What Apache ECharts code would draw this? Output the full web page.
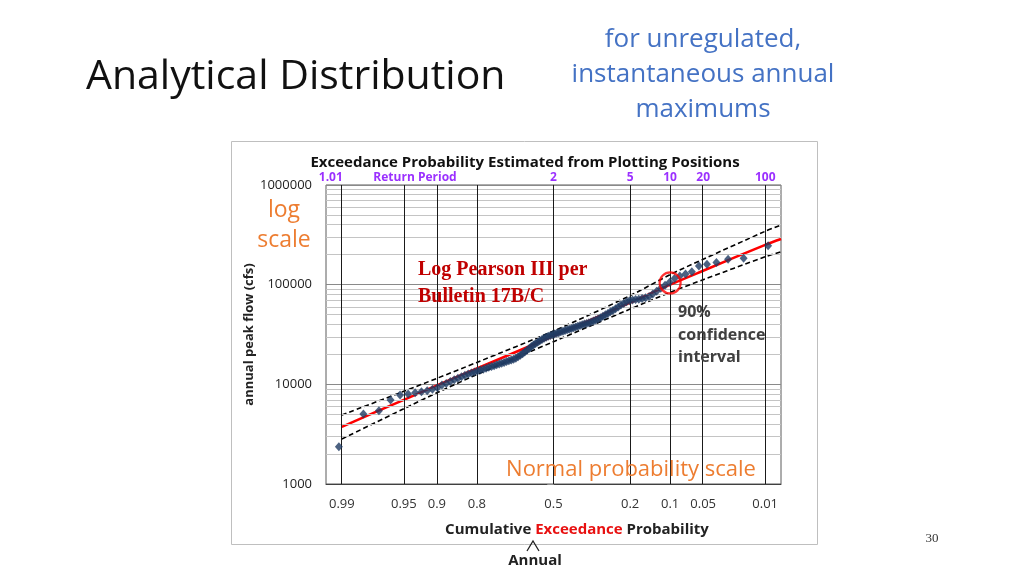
<!DOCTYPE html>
<html><head><meta charset="utf-8">
<script src="https://cdn.jsdelivr.net/npm/echarts@6/dist/echarts.min.js"></script>
<style>html,body{margin:0;padding:0;background:#fff}#c{width:1024px;height:576px}</style>
</head><body><div id="c"></div>
<script>
// ---------- data ----------
const probTicks = [0.99, 0.95, 0.9, 0.8, 0.5, 0.2, 0.1, 0.05, 0.01];
const probTickLabels = ['0.99', '0.95', '0.9', '0.8', '0.5', '0.2', '0.1', '0.05', '0.01'];
const returnProbs = [0.99, 0.5, 0.2, 0.1, 0.05, 0.01];
const returnLabels = ['1.01', '2', '5', '10', '20', '100'];
const yTicks = [1000, 10000, 100000, 1000000];
// annual peak flows (cfs), ranked largest to smallest
const observedFlows = [
  246000, 184000, 180000, 167000, 160000, 154000, 135000, 128000, 122000, 115000,
  106000, 98900, 92300, 86100, 80400, 75900, 74100, 72800, 71600, 70800,
  70000, 68900, 67500, 64900, 62400, 59600, 57300, 55200, 53500, 51500,
  49800, 48100, 46600, 45300, 44200, 43200, 42300, 41500, 40800, 40200,
  39500, 38900, 38200, 37600, 37000, 36400, 35800, 35200, 34700, 34100,
  33600, 33000, 32500, 32000, 31500, 30900, 30300, 29600, 29000, 28200,
  27400, 26500, 25700, 24800, 23900, 22900, 22000, 21100, 20300, 19600,
  18900, 18300, 17900, 17500, 17200, 16900, 16600, 16300, 16000, 15700,
  15400, 15100, 14800, 14500, 14200, 13900, 13600, 13300, 13000, 12700,
  12300, 11900, 11500, 11100, 10700, 10200, 9840, 9230, 8910, 8630,
  8440, 8240, 8000, 7810, 6970, 5430, 5040, 2370
];
const fitProbs  = [0.99, 0.95, 0.9, 0.8, 0.5, 0.2, 0.1, 0.05, 0.01, 0.0062];
const fitFlows  = [3750, 7000, 9770, 14450, 30550, 66070, 100000, 138000, 251000, 287000];
const upperFlows = [4920, 8510, 11480, 16600, 34280, 77600, 126000, 180000, 343000, 397000];
const lowerFlows = [2825, 5690, 8220, 12530, 26790, 56900, 83600, 112200, 190500, 213800];
const highlightProb = 0.1;
const highlightFlow = 104000;

// ---------- normal probability scale ----------
function probit(p) {
  const a = [-3.969683028665376e+01, 2.209460984245205e+02, -2.759285104469687e+02, 1.383577518672690e+02, -3.066479806614716e+01, 2.506628277459239e+00];
  const b = [-5.447609879822406e+01, 1.615858368580409e+02, -1.556989798598866e+02, 6.680131188771972e+01, -1.328068155288572e+01];
  const c = [-7.784894002430293e-03, -3.223964580411365e-01, -2.400758277161838e+00, -2.549732539343734e+00, 4.374664141464968e+00, 2.938163982698783e+00];
  const d = [7.784695709041462e-03, 3.224671290700398e-01, 2.445134137142996e+00, 3.754408661907416e+00];
  const pl = 0.02425, ph = 1 - pl; let q, r;
  if (p < pl) { q = Math.sqrt(-2 * Math.log(p)); return (((((c[0]*q+c[1])*q+c[2])*q+c[3])*q+c[4])*q+c[5]) / ((((d[0]*q+d[1])*q+d[2])*q+d[3])*q+1); }
  if (p > ph) { q = Math.sqrt(-2 * Math.log(1 - p)); return -(((((c[0]*q+c[1])*q+c[2])*q+c[3])*q+c[4])*q+c[5]) / ((((d[0]*q+d[1])*q+d[2])*q+d[3])*q+1); }
  q = p - 0.5; r = q * q;
  return (((((a[0]*r+a[1])*r+a[2])*r+a[3])*r+a[4])*r+a[5])*q / (((((b[0]*r+b[1])*r+b[2])*r+b[3])*r+b[4])*r+1);
}
const zOf = pe => probit(1 - pe);   // exceedance probability -> standard normal variate

// Weibull plotting positions i/(n+1)
const nObs = observedFlows.length;
const obsData = observedFlows.map((q, i) => [zOf((i + 1) / (nObs + 1)), q]);
const fitData = fitProbs.map((p, i) => [zOf(p), fitFlows[i]]);
const upData = fitProbs.map((p, i) => [zOf(p), upperFlows[i]]);
const loData = fitProbs.map((p, i) => [zOf(p), lowerFlows[i]]);

const tickZ = probTicks.map(zOf);
const retZ = returnProbs.map(zOf);
function nearestIdx(arr, v) { let bi = 0, bd = 1e9; arr.forEach((a, i) => { const dd = Math.abs(a - v); if (dd < bd) { bd = dd; bi = i; } }); return bi; }

const minorVals = [];
[1000, 10000, 100000].forEach(dec => { for (let m = 2; m <= 9; m++) minorVals.push(dec * m); });

const SANS = '"Open Sans", sans-serif';
const txt = (text, x, y, font, fill, align) => ({ type: 'text', z: 100, silent: true,
  style: { text, x, y, font, fill, textAlign: align || 'left', textVerticalAlign: 'middle' } });

const chart = echarts.init(document.getElementById('c'), null, { renderer: 'canvas' });
chart.setOption({
  animation: false,
  backgroundColor: '#ffffff',
  grid: { left: 326, right: 243, top: 185, bottom: 92, show: true, borderColor: '#5a5a5a', borderWidth: 1 },
  xAxis: [{
    type: 'value', min: -2.5, max: 2.5, position: 'bottom',
    axisLine: { show: true, lineStyle: { color: '#404040', width: 1 } },
    axisTick: { show: false },
    splitLine: { show: false },
    axisLabel: {
      customValues: tickZ, margin: 14, color: '#333', fontSize: 13, fontFamily: SANS,
      formatter: v => probTickLabels[nearestIdx(tickZ, v)]
    }
  }, {
    type: 'value', min: -2.5, max: 2.5, position: 'top',
    axisLine: { show: false }, axisTick: { show: false }, splitLine: { show: false },
    axisLabel: {
      customValues: retZ, margin: 1,
      formatter: v => { const i = nearestIdx(retZ, v); return i === 0 ? '{s|' + returnLabels[i] + '}' : '{n|' + returnLabels[i] + '}'; },
      rich: {
        s: { color: '#9b30ff', fontSize: 12, fontWeight: 'bold', fontFamily: SANS, padding: [0, 22, 0, 0] },
        n: { color: '#9b30ff', fontSize: 12, fontWeight: 'bold', fontFamily: SANS }
      }
    }
  }],
  yAxis: [{
    type: 'log', logBase: 10, min: 1000, max: 1000000,
    name: 'annual peak flow (cfs)', nameLocation: 'middle', nameGap: 70, nameRotate: 90,
    nameTextStyle: { fontSize: 13, fontWeight: 'bold', color: '#222', fontFamily: SANS },
    axisLine: { show: true, lineStyle: { color: '#8c8c8c' } },
    axisTick: { show: true, length: 6, lineStyle: { color: '#8c8c8c' } },
    splitLine: { show: true, lineStyle: { color: '#8a8a8a', width: 1 } },
    axisLabel: { customValues: yTicks, margin: 14, color: '#222', fontSize: 13, fontFamily: SANS, formatter: v => String(Math.round(v)) }
  }],
  series: [
    {
      type: 'line', data: [], silent: true, z: 1,
      markLine: {
        silent: true, symbol: ['none', 'none'], label: { show: false }, animation: false,
        data: minorVals.map(v => ({ yAxis: v, lineStyle: { color: '#c4c4c4', width: 1, type: 'solid' } }))
          .concat(tickZ.map(z => ({ xAxis: z, lineStyle: { color: '#1a1a1a', width: 1, type: 'solid' } })))
      }
    },
    { type: 'line', data: upData, smooth: 0.3, showSymbol: false, z: 3, lineStyle: { color: '#000', width: 1.6, type: [5, 3] } },
    { type: 'line', data: loData, smooth: 0.3, showSymbol: false, z: 3, lineStyle: { color: '#000', width: 1.6, type: [5, 3] } },
    { type: 'line', data: fitData, smooth: 0.3, showSymbol: false, z: 4, lineStyle: { color: '#ff0000', width: 2.5 } },
    { type: 'scatter', data: obsData, symbol: 'diamond', symbolSize: [8, 9], z: 5, itemStyle: { color: '#1f3b63' } },
    { type: 'scatter', data: [[zOf(highlightProb), highlightFlow]], symbol: 'circle', symbolSize: 21, z: 6,
      itemStyle: { color: 'rgba(0,0,0,0)', borderColor: '#ff0000', borderWidth: 2.2 } }
  ],
  graphic: [
    { type: 'rect', z: -1, silent: true, shape: { x: 231.5, y: 141.5, width: 586, height: 403 }, style: { fill: 'none', stroke: '#bfbfbf', lineWidth: 1 } },
    txt('Analytical Distribution', 86, 77, '41px ' + SANS, '#111'),
    txt('for unregulated,', 703, 40, '26px ' + SANS, '#4472c4', 'center'),
    txt('instantaneous annual', 703, 75, '26px ' + SANS, '#4472c4', 'center'),
    txt('maximums', 703, 110, '26px ' + SANS, '#4472c4', 'center'),
    txt('Exceedance Probability Estimated from Plotting Positions', 525, 163, 'bold 15px ' + SANS, '#111', 'center'),
    txt('Return Period', 415, 178, 'bold 12px ' + SANS, '#9b30ff', 'center'),
    txt('log', 284, 210, '23px ' + SANS, '#ed7d31', 'center'),
    txt('scale', 284, 240, '23px ' + SANS, '#ed7d31', 'center'),
    txt('Log Pearson III per', 418, 270, 'bold 20px "Liberation Serif", serif', '#c00000'),
    txt('Bulletin 17B/C', 418, 297, 'bold 20px "Liberation Serif", serif', '#c00000'),
    txt('90%', 678, 312, 'bold 16px ' + SANS, '#404040'),
    txt('confidence', 678, 335, 'bold 16px ' + SANS, '#404040'),
    txt('interval', 678, 357, 'bold 16px ' + SANS, '#404040'),
    txt('Normal probability scale', 631, 470, '22px ' + SANS, '#ed7d31', 'center'),
    { type: 'text', z: 100, silent: true, style: { text: '{a|Cumulative }{b|Exceedance}{a| Probability}', x: 577, y: 530, textAlign: 'center', textVerticalAlign: 'middle',
      rich: { a: { font: 'bold 15px ' + SANS, fill: '#222' }, b: { font: 'bold 15px ' + SANS, fill: '#e81010' } } } },
    { type: 'polyline', z: 100, silent: true, shape: { points: [[527, 551], [533, 541], [539, 551]] }, style: { stroke: '#222', lineWidth: 1.3, fill: 'none' } },
    txt('Annual', 535, 561, 'bold 15px ' + SANS, '#222', 'center'),
    txt('30', 932, 539, '13px "Liberation Serif", serif', '#333', 'center')
  ]
});
</script>
</body></html>
